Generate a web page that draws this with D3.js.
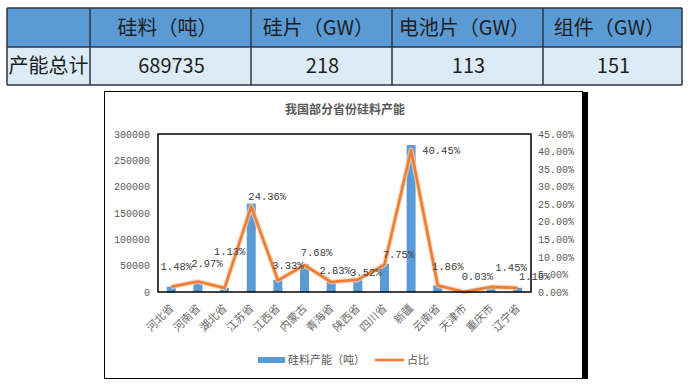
<!DOCTYPE html>
<html><head><meta charset="utf-8">
<script src="https://cdn.jsdelivr.net/npm/d3@7"></script>
<style>body{margin:0;background:#fff}svg{display:block}</style>
</head><body>
<svg id="c" width="691" height="384"></svg>
<script>
// ---- data ----
const tableHeaders = ["", "硅料（吨）", "硅片（GW）", "电池片（GW）", "组件（GW）"];
const tableRowLabel = "产能总计";
const tableValues = ["689735", "218", "113", "151"];

const categories = ["河北省","河南省","湖北省","江苏省","江西省","内蒙古","青海省","陕西省","四川省","新疆","云南省","天津市","重庆市","辽宁省"];
const capacity = [10200, 20500, 7800, 168000, 23000, 53000, 19500, 24300, 53500, 279000, 12800, 200, 10000, 8000];
const share = [1.48, 2.97, 1.13, 24.36, 3.33, 7.68, 2.83, 3.52, 7.75, 40.45, 1.86, 0.03, 1.45, 1.16];
const leftTicks = [0, 50000, 100000, 150000, 200000, 250000, 300000];
const rightTicks = [0, 5, 10, 15, 20, 25, 30, 35, 40, 45];
const chartTitle = "我国部分省份硅料产能";
const legendLabels = ["硅料产能（吨）", "占比"];

// label nudges (layout, px) for the manually placed data labels
const labelNudge = [[5,-20],[9,-18],[5,-37],[16,-10],[10,-15],[12,-13],[4,-12],[8,-7],[14,-10],[30,0],[10,-19],[13,-16],[20,-20],[17,-12]];

const svg = d3.select("#c");
const CJK = "'Noto Sans CJK SC','Microsoft YaHei',sans-serif";
const MONO = "'Liberation Mono','Courier New',monospace";

// ---- table ----
const colX = d3.scaleOrdinal().domain(d3.range(6)).range([7, 90, 251, 392, 543, 682]);
const rowY = [8, 47, 85];
const tg = svg.append("g");
tg.append("rect").attr("x", 7).attr("y", rowY[0]).attr("width", 675).attr("height", rowY[1]-rowY[0]).attr("fill", "#5b9bd5");
tg.append("rect").attr("x", 7).attr("y", rowY[1]).attr("width", 675).attr("height", rowY[2]-rowY[1]).attr("fill", "#ddebf7");
tableHeaders.forEach((h, i) => {
  tg.append("text").attr("x", (colX(i)+colX(i+1))/2 - 3).attr("y", (rowY[0]+rowY[1])/2)
    .attr("dy", "0.35em").attr("text-anchor", "middle")
    .attr("font-family", CJK).attr("font-size", 20).attr("fill", "#1e1e1e").text(h);
});
tg.append("text").attr("x", (colX(0)+colX(1))/2).attr("y", (rowY[1]+rowY[2])/2)
  .attr("dy", "0.35em").attr("text-anchor", "middle")
  .attr("font-family", CJK).attr("font-size", 20).attr("fill", "#1e1e1e").text(tableRowLabel);
tableValues.forEach((v, i) => {
  tg.append("text").attr("x", (colX(i+1)+colX(i+2))/2 + 1).attr("y", (rowY[1]+rowY[2])/2)
    .attr("dy", "0.35em").attr("text-anchor", "middle")
    .attr("font-family", CJK).attr("font-size", 20).attr("fill", "#1e1e1e").text(v);
});
// grid lines
const bc = "#2e3642";
rowY.forEach(y => tg.append("line").attr("x1", 7).attr("x2", 682).attr("y1", y).attr("y2", y).attr("stroke", bc).attr("stroke-width", 1.5));
d3.range(6).forEach(i => tg.append("line").attr("x1", colX(i)).attr("x2", colX(i)).attr("y1", 8).attr("y2", 85).attr("stroke", bc).attr("stroke-width", 1.5));

// ---- chart frame ----
svg.append("rect").attr("x", 104.5).attr("y", 91.5).attr("width", 478).attr("height", 287).attr("fill", "#fff").attr("stroke", "#000").attr("stroke-width", 1);
svg.append("rect").attr("x", 582).attr("y", 92).attr("width", 6).attr("height", 287).attr("fill", "#000");

svg.append("text").attr("x", 345).attr("y", 110).attr("dy", "0.35em").attr("text-anchor", "middle")
  .attr("font-family", CJK).attr("font-weight", "bold").attr("font-size", 12).attr("fill", "#595959").text(chartTitle);

const L = 158, R = 531, T = 134, B = 292;
const x = d3.scaleBand().domain(categories).range([L, R]);
const y = d3.scaleLinear().domain([0, 300000]).range([B, T]);
const y2 = d3.scaleLinear().domain([0, 45]).range([B, T]);

// axes
const ax = svg.append("g").attr("transform", `translate(${L-8},0)`)
  .call(d3.axisLeft(y).tickValues(leftTicks).tickSize(0).tickPadding(0).tickFormat(d3.format("d")));
ax.select(".domain").remove();
ax.selectAll("text").attr("font-family", MONO).attr("font-size", 10).attr("fill", "#595959");

const ax2 = svg.append("g").attr("transform", `translate(${R+7},0)`)
  .call(d3.axisRight(y2).tickValues(rightTicks).tickSize(0).tickPadding(0).tickFormat(d => d.toFixed(2) + "%"));
ax2.select(".domain").remove();
ax2.selectAll("text").attr("font-family", MONO).attr("font-size", 10).attr("fill", "#595959");

const axb = svg.append("g").attr("transform", `translate(0,${B})`)
  .call(d3.axisBottom(x).tickSize(0).tickPadding(0));
axb.select(".domain").remove();
axb.selectAll("text").attr("font-family", CJK).attr("font-size", 11).attr("fill", "#6a6a6a")
  .attr("text-anchor", "end").attr("dy", 0)
  .attr("transform", "translate(3,17) rotate(-45)");

// bars
const bw = 9;
svg.append("g").selectAll("rect").data(categories).join("rect")
  .attr("x", d => x(d) + x.bandwidth()/2 - bw/2)
  .attr("y", (d, i) => y(capacity[i]))
  .attr("width", bw)
  .attr("height", (d, i) => B - y(capacity[i]))
  .attr("fill", "#5b9bd5");

// line
const line = d3.line().x((d, i) => x(categories[i]) + x.bandwidth()/2).y(d => y2(d));
svg.append("path").attr("d", line(share)).attr("fill", "none").attr("stroke", "#f8cbad").attr("stroke-width", 5).attr("stroke-linejoin", "round").attr("opacity", 0.8);
svg.append("path").attr("d", line(share)).attr("fill", "none").attr("stroke", "#ed7d31").attr("stroke-width", 2.6).attr("stroke-linejoin", "round");

// plot area border
svg.append("rect").attr("x", L).attr("y", T).attr("width", R-L).attr("height", B-T).attr("fill", "none").attr("stroke", "#000").attr("stroke-width", 1.5);

// data labels
svg.append("g").selectAll("text").data(share).join("text")
  .attr("x", (d, i) => x(categories[i]) + x.bandwidth()/2 + labelNudge[i][0])
  .attr("y", (d, i) => y2(d) + labelNudge[i][1])
  .attr("dy", "0.35em").attr("text-anchor", "middle")
  .attr("font-family", MONO).attr("font-size", 10.5).attr("fill", "#404040")
  .text(d => d.toFixed(2) + "%");

// legend
const lg = svg.append("g");
lg.append("rect").attr("x", 258).attr("y", 357).attr("width", 27).attr("height", 6).attr("fill", "#5b9bd5");
lg.append("text").attr("x", 288).attr("y", 360).attr("dy", "0.35em").attr("font-family", CJK).attr("font-size", 11).attr("fill", "#595959").text(legendLabels[0]);
lg.append("line").attr("x1", 375).attr("x2", 404).attr("y1", 360).attr("y2", 360).attr("stroke", "#ed7d31").attr("stroke-width", 2.6);
lg.append("text").attr("x", 407).attr("y", 360).attr("dy", "0.35em").attr("font-family", CJK).attr("font-size", 11).attr("fill", "#595959").text(legendLabels[1]);
</script>
</body></html>
